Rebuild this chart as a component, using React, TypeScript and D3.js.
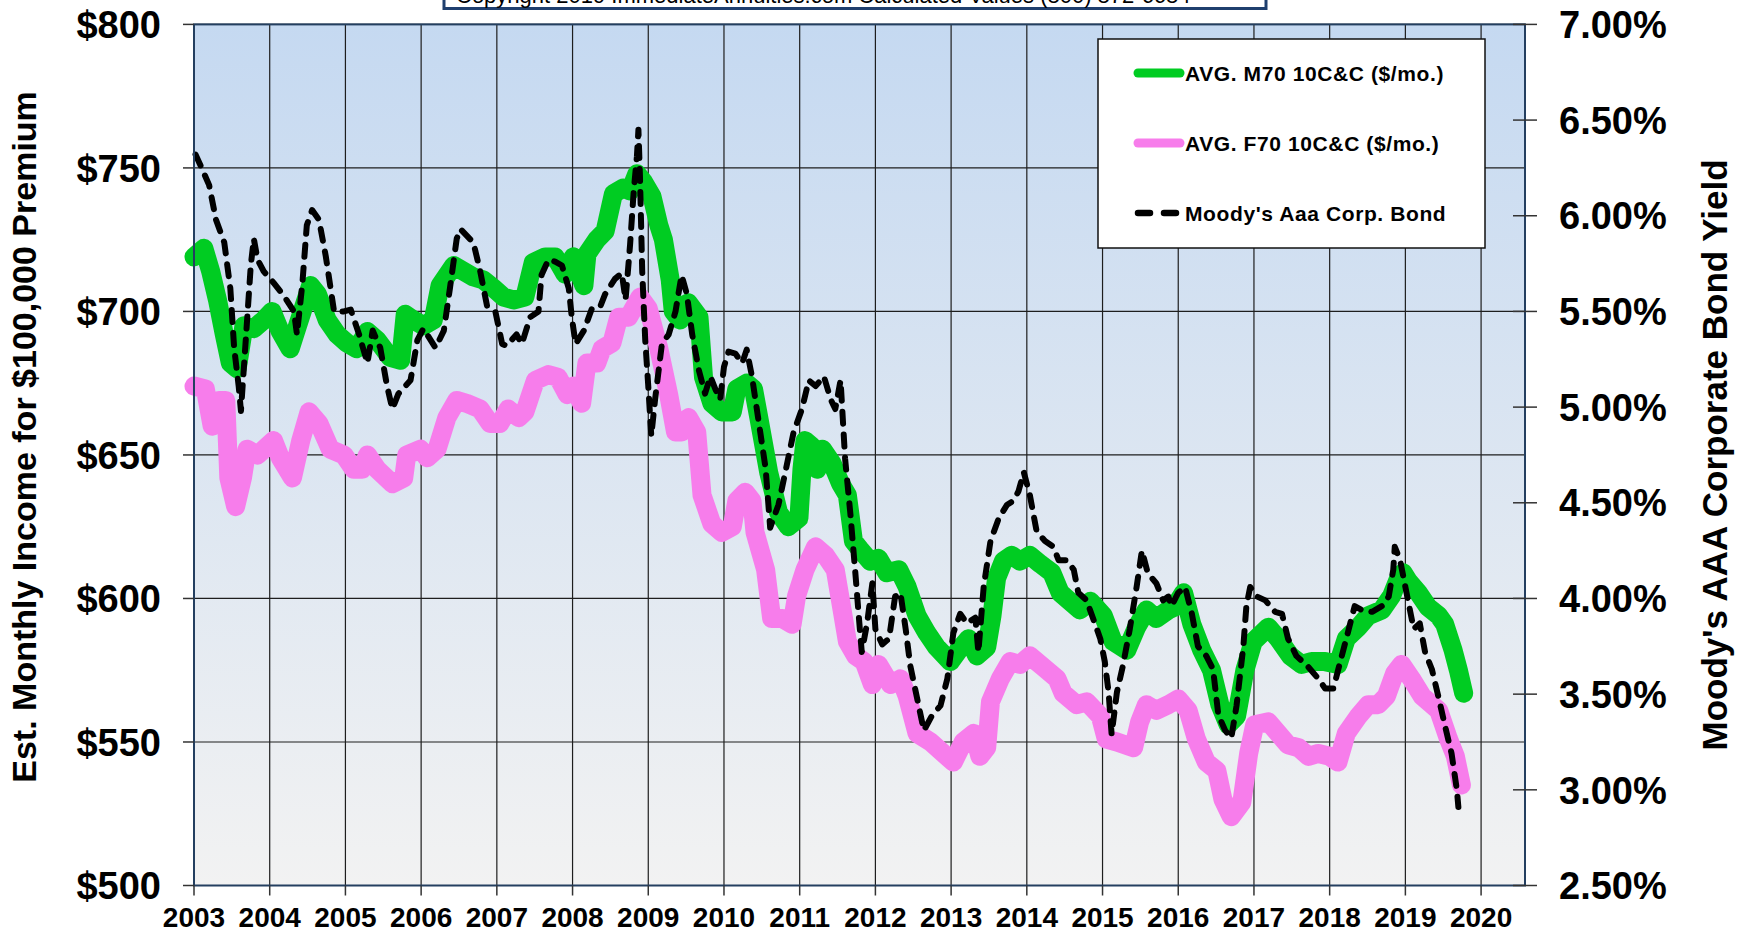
import React from 'react'
import * as d3 from 'd3'

// tick values
const years = d3.range(2003, 2021)
const incomeTicks = [500, 550, 600, 650, 700, 750, 800]
const yieldTicks = [2.5, 3, 3.5, 4, 4.5, 5, 5.5, 6, 6.5, 7]

// AVG. M70 10C&C ($/mo.)  [year, $]
const m70: [number, number][] = [
  [2003.00, 719], [2003.13, 722], [2003.22, 714], [2003.31, 704], [2003.40, 692], [2003.48, 682], [2003.57, 680],
  [2003.66, 695], [2003.79, 694], [2003.92, 697], [2004.03, 700], [2004.14, 693], [2004.27, 687], [2004.38, 696],
  [2004.54, 709], [2004.63, 706], [2004.76, 697], [2004.89, 692], [2005.02, 689], [2005.15, 687], [2005.29, 693],
  [2005.42, 690], [2005.59, 684], [2005.73, 683], [2005.79, 699], [2005.90, 697], [2006.03, 695], [2006.16, 697],
  [2006.25, 709], [2006.43, 716], [2006.56, 714], [2006.69, 712], [2006.82, 711], [2006.96, 708], [2007.09, 705],
  [2007.22, 704], [2007.37, 705], [2007.48, 717], [2007.64, 719], [2007.77, 719], [2007.90, 713], [2008.01, 719],
  [2008.15, 709], [2008.19, 720], [2008.32, 725], [2008.43, 728], [2008.54, 741], [2008.67, 743], [2008.76, 742],
  [2008.85, 748], [2008.94, 745], [2009.05, 740], [2009.14, 730], [2009.20, 725], [2009.29, 711], [2009.33, 700],
  [2009.42, 697], [2009.53, 703], [2009.67, 698], [2009.73, 677], [2009.84, 668], [2009.97, 665], [2010.11, 665],
  [2010.17, 673], [2010.30, 675], [2010.39, 673], [2010.46, 663], [2010.59, 644], [2010.72, 630], [2010.85, 625],
  [2010.99, 628], [2011.03, 645], [2011.07, 655], [2011.16, 653], [2011.23, 645], [2011.30, 652], [2011.43, 647],
  [2011.54, 640], [2011.63, 636], [2011.71, 620], [2011.80, 617], [2011.93, 613], [2012.04, 614], [2012.15, 609],
  [2012.31, 610], [2012.42, 604], [2012.55, 594], [2012.68, 588], [2012.81, 583], [2012.99, 578], [2013.10, 582],
  [2013.23, 586], [2013.34, 580], [2013.47, 583], [2013.54, 594], [2013.60, 607], [2013.69, 613], [2013.80, 615],
  [2013.91, 613], [2014.04, 615], [2014.18, 612], [2014.33, 609], [2014.44, 602], [2014.57, 599], [2014.70, 596],
  [2014.84, 599], [2015.01, 594], [2015.14, 585], [2015.32, 582], [2015.45, 590], [2015.58, 596], [2015.71, 593],
  [2015.87, 596], [2015.95, 597], [2016.07, 602], [2016.18, 591], [2016.31, 582], [2016.44, 575], [2016.55, 563],
  [2016.66, 556], [2016.77, 559], [2016.88, 575], [2016.99, 585], [2017.19, 590], [2017.32, 586], [2017.48, 580],
  [2017.63, 577], [2017.76, 578], [2017.94, 578], [2018.11, 577], [2018.22, 586], [2018.38, 590], [2018.51, 594],
  [2018.69, 596], [2018.82, 601], [2018.91, 607], [2018.97, 609], [2019.04, 606], [2019.17, 602], [2019.30, 597],
  [2019.44, 594], [2019.52, 591], [2019.63, 582], [2019.70, 575], [2019.77, 567],
]

// AVG. F70 10C&C ($/mo.)  [year, $]
const f70: [number, number][] = [
  [2003.00, 674], [2003.15, 673], [2003.24, 660], [2003.33, 669], [2003.42, 669], [2003.46, 642], [2003.55, 632],
  [2003.64, 642], [2003.70, 652], [2003.84, 650], [2004.05, 655], [2004.14, 649], [2004.30, 642], [2004.41, 655],
  [2004.52, 665], [2004.65, 661], [2004.80, 652], [2004.98, 650], [2005.11, 645], [2005.22, 645], [2005.29, 650],
  [2005.42, 645], [2005.62, 640], [2005.77, 642], [2005.81, 650], [2005.99, 652], [2006.08, 649], [2006.21, 652],
  [2006.34, 663], [2006.47, 669], [2006.60, 668], [2006.78, 666], [2006.91, 661], [2007.04, 661], [2007.15, 666],
  [2007.29, 663], [2007.37, 665], [2007.51, 676], [2007.68, 678], [2007.81, 677], [2007.93, 671], [2008.01, 674],
  [2008.12, 668], [2008.19, 682], [2008.32, 682], [2008.39, 687], [2008.52, 689], [2008.61, 698], [2008.74, 698],
  [2008.89, 705], [2009.00, 701], [2009.14, 687], [2009.27, 671], [2009.36, 658], [2009.44, 658], [2009.53, 663],
  [2009.64, 658], [2009.71, 636], [2009.84, 626], [2009.97, 623], [2010.11, 625], [2010.17, 634], [2010.28, 637],
  [2010.37, 634], [2010.41, 623], [2010.55, 610], [2010.63, 593], [2010.77, 593], [2010.90, 591], [2010.96, 601],
  [2011.07, 610], [2011.21, 618], [2011.34, 615], [2011.47, 610], [2011.56, 596], [2011.63, 585], [2011.74, 580],
  [2011.85, 578], [2011.96, 570], [2012.04, 577], [2012.20, 570], [2012.33, 572], [2012.42, 566], [2012.55, 553],
  [2012.73, 550], [2012.90, 546], [2013.03, 543], [2013.16, 550], [2013.30, 553], [2013.38, 545], [2013.47, 548],
  [2013.52, 564], [2013.65, 572], [2013.78, 578], [2013.91, 577], [2014.04, 580], [2014.22, 576], [2014.40, 572],
  [2014.48, 567], [2014.66, 563], [2014.79, 564], [2014.97, 559], [2015.05, 551], [2015.19, 550], [2015.41, 548],
  [2015.49, 557], [2015.58, 563], [2015.71, 561], [2015.87, 563], [2016.00, 565], [2016.13, 561], [2016.24, 551],
  [2016.37, 543], [2016.51, 540], [2016.59, 530], [2016.70, 524], [2016.84, 529], [2016.93, 546], [2017.01, 556],
  [2017.19, 557], [2017.32, 553], [2017.45, 549], [2017.59, 548], [2017.72, 545], [2017.85, 546], [2018.00, 545],
  [2018.11, 543], [2018.22, 553], [2018.38, 559], [2018.51, 563], [2018.64, 563], [2018.75, 566], [2018.86, 574],
  [2018.95, 577], [2019.08, 572], [2019.22, 566], [2019.35, 563], [2019.44, 561], [2019.57, 551], [2019.66, 545],
  [2019.74, 535],
]

// Moody's Aaa Corp. Bond yield  [year, %]
const aaa: [number, number][] = [
  [2003.02, 6.32], [2003.09, 6.26], [2003.20, 6.16], [2003.29, 5.98], [2003.40, 5.86], [2003.48, 5.62], [2003.53, 5.31],
  [2003.59, 5.11], [2003.62, 4.98], [2003.68, 5.33], [2003.75, 5.74], [2003.79, 5.88], [2003.84, 5.77], [2003.92, 5.71],
  [2004.05, 5.65], [2004.19, 5.58], [2004.32, 5.50], [2004.36, 5.38], [2004.43, 5.64], [2004.49, 5.95], [2004.56, 6.03],
  [2004.65, 5.98], [2004.74, 5.79], [2004.85, 5.50], [2004.98, 5.50], [2005.07, 5.51], [2005.18, 5.38], [2005.29, 5.23],
  [2005.36, 5.40], [2005.46, 5.31], [2005.55, 5.11], [2005.62, 4.99], [2005.70, 5.07], [2005.86, 5.14], [2005.95, 5.35],
  [2006.03, 5.41], [2006.19, 5.31], [2006.30, 5.40], [2006.38, 5.62], [2006.47, 5.88], [2006.52, 5.93], [2006.69, 5.86],
  [2006.78, 5.71], [2006.87, 5.53], [2006.98, 5.50], [2007.07, 5.33], [2007.13, 5.32], [2007.26, 5.38], [2007.33, 5.33],
  [2007.44, 5.47], [2007.55, 5.50], [2007.59, 5.69], [2007.68, 5.77], [2007.77, 5.76], [2007.86, 5.74], [2007.95, 5.62],
  [2007.99, 5.47], [2008.04, 5.33], [2008.15, 5.40], [2008.26, 5.52], [2008.37, 5.53], [2008.43, 5.59], [2008.56, 5.67],
  [2008.65, 5.70], [2008.70, 5.56], [2008.76, 5.85], [2008.81, 6.14], [2008.85, 6.31], [2008.87, 6.45], [2008.89, 6.21],
  [2008.92, 5.71], [2008.96, 5.35], [2009.00, 5.11], [2009.04, 4.85], [2009.09, 5.04], [2009.18, 5.33], [2009.27, 5.38],
  [2009.36, 5.50], [2009.44, 5.69], [2009.51, 5.59], [2009.58, 5.38], [2009.67, 5.19], [2009.75, 5.07], [2009.82, 5.16],
  [2009.89, 5.09], [2009.95, 5.04], [2010.00, 5.21], [2010.06, 5.29], [2010.15, 5.28], [2010.24, 5.23], [2010.30, 5.30],
  [2010.37, 5.16], [2010.46, 4.92], [2010.55, 4.68], [2010.61, 4.37], [2010.72, 4.49], [2010.81, 4.66], [2010.92, 4.87],
  [2011.03, 4.99], [2011.12, 5.14], [2011.21, 5.11], [2011.32, 5.16], [2011.41, 5.04], [2011.47, 4.99], [2011.54, 5.14],
  [2011.60, 4.73], [2011.67, 4.44], [2011.74, 4.11], [2011.78, 3.91], [2011.82, 3.72], [2011.89, 3.87], [2011.96, 4.08],
  [2012.00, 3.84], [2012.09, 3.76], [2012.18, 3.79], [2012.26, 4.01], [2012.33, 4.03], [2012.40, 3.84], [2012.46, 3.65],
  [2012.55, 3.48], [2012.64, 3.31], [2012.75, 3.39], [2012.86, 3.44], [2012.95, 3.58], [2013.03, 3.82], [2013.12, 3.92],
  [2013.21, 3.87], [2013.32, 3.90], [2013.36, 3.72], [2013.43, 4.06], [2013.52, 4.30], [2013.63, 4.42], [2013.74, 4.49],
  [2013.82, 4.51], [2013.89, 4.56], [2013.96, 4.66], [2014.04, 4.54], [2014.13, 4.35], [2014.24, 4.30], [2014.35, 4.27],
  [2014.42, 4.20], [2014.53, 4.20], [2014.62, 4.15], [2014.68, 4.03], [2014.79, 3.99], [2014.88, 3.89], [2014.97, 3.79],
  [2015.03, 3.67], [2015.08, 3.51], [2015.12, 3.29], [2015.19, 3.51], [2015.27, 3.65], [2015.36, 3.84], [2015.45, 4.06],
  [2015.52, 4.25], [2015.60, 4.13], [2015.71, 4.08], [2015.80, 3.99], [2015.87, 4.01], [2015.91, 3.96], [2016.00, 4.03],
  [2016.09, 4.06], [2016.18, 3.92], [2016.26, 3.75], [2016.37, 3.70], [2016.46, 3.63], [2016.53, 3.39], [2016.62, 3.31],
  [2016.70, 3.27], [2016.77, 3.44], [2016.86, 3.75], [2016.90, 3.96], [2016.95, 4.06], [2017.04, 4.01], [2017.15, 3.99],
  [2017.28, 3.93], [2017.37, 3.92], [2017.45, 3.79], [2017.56, 3.70], [2017.70, 3.65], [2017.83, 3.59], [2017.94, 3.53],
  [2018.05, 3.53], [2018.14, 3.67], [2018.22, 3.79], [2018.33, 3.96], [2018.42, 3.94], [2018.56, 3.93], [2018.69, 3.96],
  [2018.78, 4.01], [2018.84, 4.15], [2018.86, 4.27], [2018.93, 4.20], [2019.00, 4.06], [2019.11, 3.84], [2019.19, 3.87],
  [2019.26, 3.72], [2019.35, 3.63], [2019.44, 3.48], [2019.52, 3.34], [2019.61, 3.19], [2019.68, 3.00], [2019.70, 2.91],
]

const legendItems = [
  { label: 'AVG. M70 10C&C ($/mo.)', color: '#00CC22', dash: false },
  { label: 'AVG. F70 10C&C ($/mo.)', color: '#F77DEB', dash: false },
  { label: "Moody's Aaa Corp. Bond", color: '#000000', dash: true },
]

const W = 1740
const H = 935
const left = 194
const right = 1525
const top = 24.4
const bottom = 885.5
const font = '"Liberation Sans", Arial, Helvetica, sans-serif'

export default function App() {
  const x = d3.scaleLinear().domain([2003, 2020.58]).range([left, right])
  const yL = d3.scaleLinear().domain([500, 800]).range([bottom, top])
  const yR = d3.scaleLinear().domain([2.5, 7]).range([bottom, top])

  const lineL = d3.line<[number, number]>().x(d => x(d[0])).y(d => yL(d[1]))
  const lineR = d3.line<[number, number]>().x(d => x(d[0])).y(d => yR(d[1]))

  const gridColor = '#1e1e1e'
  const frame = '#243F60'

  return (
    <svg width={W} height={H} style={{ position: 'absolute', left: 0, top: 0, display: 'block' }} fontFamily={font}>
      <defs>
        <linearGradient id="plotBg" x1="0" y1="0" x2="0" y2="1">
          <stop offset="0%" stopColor="#C5D9F1" />
          <stop offset="100%" stopColor="#F2F2F2" />
        </linearGradient>
      </defs>
      <rect width={W} height={H} fill="#fff" />
      <rect x={left} y={top} width={right - left} height={bottom - top} fill="url(#plotBg)" />

      {/* grid */}
      {years.map(yr => (
        <line key={'v' + yr} x1={x(yr)} x2={x(yr)} y1={top} y2={bottom} stroke={gridColor} strokeWidth={1.2} />
      ))}
      {incomeTicks.map(v => (
        <line key={'h' + v} x1={left} x2={right} y1={yL(v)} y2={yL(v)} stroke={gridColor} strokeWidth={1.2} />
      ))}

      {/* series */}
      <path d={lineL(m70) || ''} fill="none" stroke="#00CC22" strokeWidth={19} strokeLinejoin="round" strokeLinecap="round" />
      <path d={lineL(f70) || ''} fill="none" stroke="#F77DEB" strokeWidth={19} strokeLinejoin="round" strokeLinecap="round" />
      <path d={lineR(aaa) || ''} fill="none" stroke="#000" strokeWidth={6} strokeDasharray="12 11" strokeLinejoin="round" strokeLinecap="round" />

      {/* frame */}
      <rect x={left} y={top} width={right - left} height={bottom - top} fill="none" stroke={frame} strokeWidth={2} />

      {/* left axis */}
      {incomeTicks.map(v => (
        <g key={'l' + v}>
          <line x1={left - 11} x2={left} y1={yL(v)} y2={yL(v)} stroke="#333" strokeWidth={1.5} />
          <text x={161} y={yL(v)} dy="0.36em" textAnchor="end" fontSize={38} fontWeight="bold">{'$' + v}</text>
        </g>
      ))}

      {/* right axis */}
      {yieldTicks.map(v => (
        <g key={'r' + v}>
          <line x1={right - 12} x2={right + 12} y1={yR(v)} y2={yR(v)} stroke="#333" strokeWidth={1.5} />
          <text x={1559} y={yR(v)} dy="0.36em" textAnchor="start" fontSize={38} fontWeight="bold">{v.toFixed(2) + '%'}</text>
        </g>
      ))}

      {/* bottom axis */}
      {years.map(yr => (
        <g key={'b' + yr}>
          <line x1={x(yr)} x2={x(yr)} y1={bottom} y2={bottom + 10} stroke="#333" strokeWidth={1.5} />
          <text x={x(yr)} y={927} textAnchor="middle" fontSize={28} fontWeight="bold">{yr}</text>
        </g>
      ))}

      {/* axis titles */}
      <text transform={`translate(36,${(top + bottom) / 2 - 18}) rotate(-90)`} textAnchor="middle" fontSize={34} fontWeight="bold">
        Est. Monthly Income for $100,000 Premium
      </text>
      <text transform={`translate(1727,${(top + bottom) / 2}) rotate(-90)`} textAnchor="middle" fontSize={35} fontWeight="bold">
        Moody's AAA Corporate Bond Yield
      </text>

      {/* legend */}
      <rect x={1098} y={39} width={387} height={209} fill="#fff" stroke="#111" strokeWidth={1.5} />
      {legendItems.map((it, i) => {
        const ly = 73 + i * 70
        return (
          <g key={it.label}>
            <line
              x1={1138} x2={1180} y1={ly} y2={ly}
              stroke={it.color}
              strokeWidth={it.dash ? 6.5 : 9}
              strokeLinecap="round"
              strokeDasharray={it.dash ? '12 14' : undefined}
            />
            <text x={1185} y={ly} dy="0.36em" fontSize={21} fontWeight="bold" letterSpacing={0.6}>{it.label}</text>
          </g>
        )
      })}

      {/* title box, mostly cut off at the top */}
      <rect x={444} y={-40} width={822} height={48.5} fill="#fff" stroke="#1F3F6E" strokeWidth={3} />
      <text x={456} y={2.5} fontSize={22}>Copyright 2019 ImmediateAnnuities.com Calculated Values (800) 872-6684</text>
    </svg>
  )
}
